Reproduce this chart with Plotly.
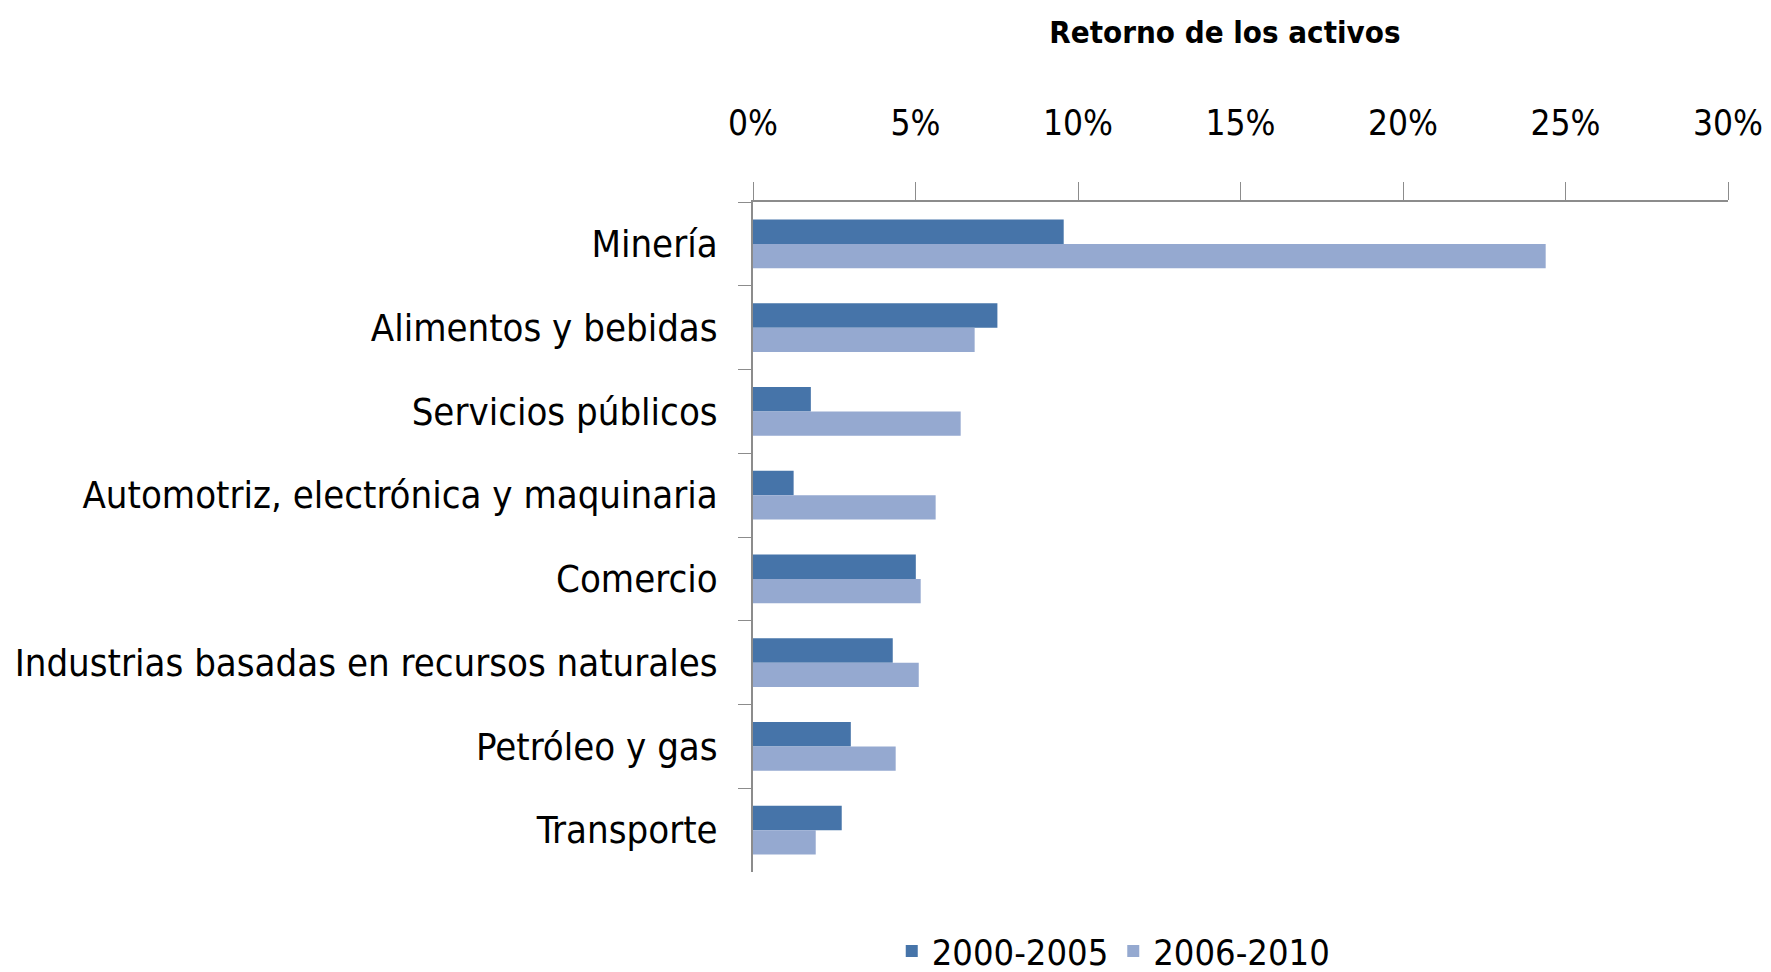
import plotly.graph_objects as go

categories = [
    "Minería",
    "Alimentos y bebidas",
    "Servicios públicos",
    "Automotriz, electrónica y maquinaria",
    "Comercio",
    "Industrias basadas en recursos naturales",
    "Petróleo y gas",
    "Transporte",
]
serie_2000_2005 = [0.0956, 0.0752, 0.0178, 0.0125, 0.0501, 0.0430, 0.0301, 0.0273]
serie_2006_2010 = [0.2439, 0.0682, 0.0639, 0.0562, 0.0516, 0.0510, 0.0439, 0.0193]
series_names = ["2000-2005", "2006-2010"]
tick_vals = [0, 0.05, 0.10, 0.15, 0.20, 0.25, 0.30]
tick_text = ["0%", "5%", "10%", "15%", "20%", "25%", "30%"]

FONT = "Liberation Sans Narrow, Arial Narrow, DejaVu Sans Condensed, sans-serif"
AXIS_COLOR = "#8c8c8c"

fig = go.Figure()
fig.add_trace(go.Bar(y=categories, x=serie_2000_2005, name=series_names[0],
                     orientation="h", marker=dict(color="#4674A9", line=dict(width=0))))
fig.add_trace(go.Bar(y=categories, x=serie_2006_2010, name=series_names[1],
                     orientation="h", marker=dict(color="#95A9D0", line=dict(width=0))))

fig.update_layout(
    width=1771, height=972,
    paper_bgcolor="white", plot_bgcolor="white",
    margin=dict(l=753, r=43, t=202, b=100, autoexpand=False),
    barmode="group", bargap=0.42, bargroupgap=0,
    font=dict(family=FONT, color="black", size=38),
    title=dict(text="<b>Retorno de los activos</b>", font=dict(family=FONT, size=31, color="black"),
               xref="paper", x=0.484, xanchor="center", yref="container", y=0.967, yanchor="middle"),
    legend=dict(orientation="h", xref="paper", x=0.37, xanchor="center",
                yref="paper", y=-0.118, yanchor="middle",
                font=dict(family=FONT, size=36, color="black"),
                itemwidth=30, tracegroupgap=0),
    showlegend=True,
)
fig.update_xaxes(
    side="top", range=[0, 0.30], tickvals=tick_vals, ticktext=tick_text, automargin=False,
    showgrid=False, zeroline=False, showline=True, linecolor=AXIS_COLOR, linewidth=1.5,
    ticks="outside", ticklen=18, tickcolor=AXIS_COLOR, tickwidth=1,
    ticklabelstandoff=33, tickfont=dict(family=FONT, size=35, color="black"),
)
fig.update_yaxes(
    autorange="reversed", type="category", tickson="boundaries", automargin=False,
    showgrid=False, zeroline=False, showline=True, linecolor=AXIS_COLOR, linewidth=1.5,
    ticks="outside", ticklen=13, tickcolor=AXIS_COLOR, tickwidth=1,
    ticklabelstandoff=26, tickfont=dict(family=FONT, size=38, color="black"),
)

fig.write_html("out.html", config={"displayModeBar": False},
               post_script="document.body.style.margin='0';document.body.style.overflow='hidden';")
